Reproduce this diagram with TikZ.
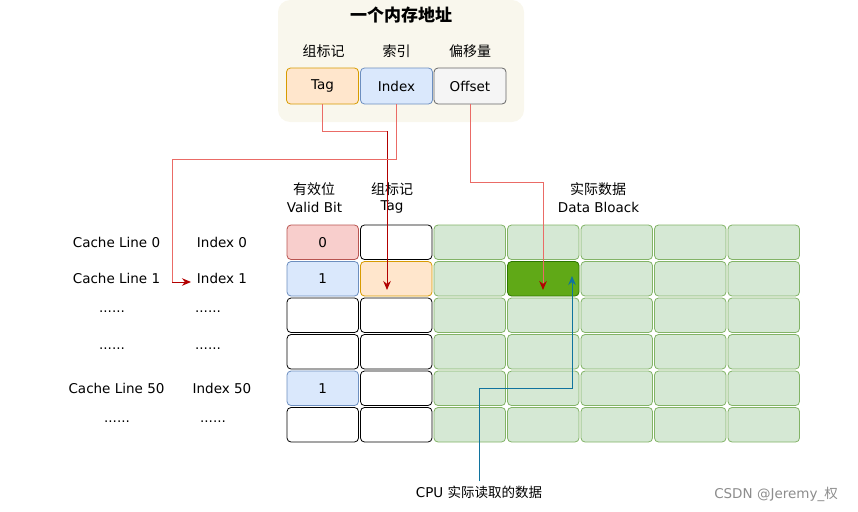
\documentclass[tikz,border=0pt]{standalone}
\usepackage{fontspec}
\setmainfont{DejaVu Sans}
\newfontfamily\cjk{Noto Sans CJK SC}
\usetikzlibrary{arrows.meta}
\definecolor{beige}{HTML}{F9F7ED}
\definecolor{lred}{HTML}{EA6B66}
\definecolor{dred}{HTML}{B20000}
\definecolor{cpublue}{HTML}{10739E}
\definecolor{gfill}{HTML}{D5E8D4}
\definecolor{gline}{HTML}{82B366}
\definecolor{hfill}{HTML}{60A917}
\definecolor{hline}{HTML}{2D7600}
\definecolor{pfill}{HTML}{F8CECC}
\definecolor{pline}{HTML}{B85450}
\definecolor{bfill}{HTML}{DAE8FC}
\definecolor{bline}{HTML}{6C8EBF}
\definecolor{ofill}{HTML}{FFE6CC}
\definecolor{oline}{HTML}{D79B00}
\definecolor{sfill}{HTML}{F5F5F5}
\definecolor{sline}{HTML}{666666}
\tikzset{
  base/.style={draw, rounded corners=4pt, line width=0.8pt, minimum width=71.5pt, minimum height=34.5pt, inner sep=0pt, font=\fontsize{13.5}{15}\selectfont},
  datacell/.style={base, fill=gfill, draw=gline},
  hotcell/.style={base, fill=hfill, draw=hline},
  whitecell/.style={base, fill=white, draw=black},
  pinkcell/.style={base, fill=pfill, draw=pline},
  bluecell/.style={base, fill=bfill, draw=bline},
  orangecell/.style={base, fill=ofill, draw=oline},
  greycell/.style={base, fill=sfill, draw=sline},
  lbl/.style={inner sep=0pt, font=\fontsize{13.5}{15}\selectfont},
  cjklbl/.style={inner sep=0pt, font=\cjk\fontsize{14}{16}\selectfont},
  tip/.style={-{Stealth[length=9pt,width=7.5pt]}},
}
\begin{document}
\begin{tikzpicture}[x=1pt,y=-1pt]
\useasboundingbox (0,0) rectangle (858,511);

% address box
\node[fill=beige, rounded corners=12pt, minimum width=246pt, minimum height=122pt, inner sep=0pt] (addr) at (401,61) {};
\node[inner sep=0pt, font=\cjk\bfseries\fontsize{17}{19}\selectfont] (title) at (401,15) {一个内存地址};
\node[cjklbl] (ltag) at (323.5,51) {组标记};
\node[cjklbl] (lidx) at (396.5,51) {索引};
\node[cjklbl] (loff) at (470,51) {偏移量};
\node[orangecell, minimum width=72pt, minimum height=36pt] (tagbox) at (322.5,86) {Tag};
\node[bluecell, minimum width=72pt, minimum height=36pt] (idxbox) at (396.5,86) {Index};
\node[greycell, minimum width=72pt, minimum height=36pt] (offbox) at (470,86) {Offset};

% headers
\node[cjklbl] (hv1) at (314,189) {有效位};
\node[lbl] (hv2) at (314.5,207) {Valid Bit};
\node[cjklbl] (ht1) at (392,189) {组标记};
\node[lbl] (ht2) at (392,207) {Tag};
\node[cjklbl] (hd1) at (598,189) {实际数据};
\node[lbl] (hd2) at (598.5,207) {Data Bloack};

% grid: valid bit and tag columns
\foreach \r/\sa/\sb/\txt in {0/pinkcell/whitecell/0, 1/bluecell/orangecell/1, 2/whitecell/whitecell/, 3/whitecell/whitecell/, 4/bluecell/whitecell/1, 5/whitecell/whitecell/}{
  \node[\sa] (c-\r-0) at (322.75,{242.25+36.5*\r}) {\txt};
  \node[\sb] (c-\r-1) at (396.25,{242.25+36.5*\r}) {};
}
% data block columns
\foreach \r in {0,...,5}{
  \foreach \c in {2,...,6}{
    \ifnum\r\c=13 \def\st{hotcell}\else\def\st{datacell}\fi
    \node[\st] (c-\r-\c) at ({322.75+73.5*\c},{242.25+36.5*\r}) {};
  }
}

% left labels
\node[lbl] (cl0) at (116.5,242.25) {Cache Line 0};
\node[lbl] (ix0) at (222,242.25) {Index 0};
\node[lbl] (cl1) at (116.5,278.75) {Cache Line 1};
\node[lbl] (ix1) at (222,278.75) {Index 1};
\node[lbl] (cl2) at (112,312) {......};
\node[lbl] (ix2) at (208,312) {......};
\node[lbl] (cl3) at (112,348.5) {......};
\node[lbl] (ix3) at (208,348.5) {......};
\node[lbl] (cl4) at (116.5,388.25) {Cache Line 50};
\node[lbl] (ix4) at (222,388.25) {Index 50};
\node[lbl] (cl5) at (117,421.5) {......};
\node[lbl] (ix5) at (213,421.5) {......};

% bottom labels
\node[inner sep=0pt, font=\fontsize{13.5}{15}\selectfont] (cpu) at (479,492) {CPU {\cjk 实际读取的数据}};
\node[inner sep=0pt, text=black!45, font=\fontsize{13.5}{15}\selectfont] (wm) at (776,494) {CSDN @Jeremy\_{\cjk 权}};

% connectors
\coordinate (t1) at (322.5,131);
\coordinate (t2) at (387,131);
\coordinate (t3) at (387,290);
\draw[lred, line width=0.9pt] (tagbox.south) -- (t1) -- (t2);
\draw[dred, line width=0.9pt, tip] (t2) -- (t3);

\coordinate (i1) at (396.5,159);
\coordinate (i2) at (172,159);
\coordinate (i3) at (172,282);
\coordinate (i4) at (191,282);
\draw[lred, line width=0.9pt] (idxbox.south) -- (i1) -- (i2) -- (i3);
\draw[dred, line width=0.9pt, tip] (i3) -- (i4);

\coordinate (o1) at (470,182);
\coordinate (o2) at (543,182);
\coordinate (o3) at (543,290);
\draw[lred, line width=0.9pt, -{Stealth[length=9pt,width=7.5pt,color=dred]}] (offbox.south) -- (o1) -- (o2) -- (o3);

\coordinate (b0) at (479,481);
\coordinate (b1) at (479,388);
\coordinate (b2) at (572,388);
\coordinate (b3) at (572,276);
\draw[cpublue, line width=0.9pt, tip] (b0) -- (b1) -- (b2) -- (b3);
\end{tikzpicture}
\end{document}
